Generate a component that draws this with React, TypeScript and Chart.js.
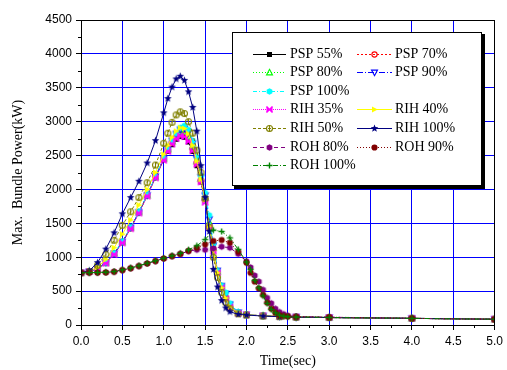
import React, { useEffect, useRef } from "react";
import { Chart, registerables } from "chart.js";

Chart.register(...registerables);

// ---- data ----
const timePR = [0, 0.1, 0.2, 0.3, 0.4, 0.5, 0.6, 0.7, 0.8, 0.9, 1.0, 1.05, 1.1, 1.15, 1.2, 1.25, 1.3, 1.35, 1.4, 1.45, 1.5, 1.55, 1.6, 1.65, 1.7, 1.75, 1.8, 1.9, 2.0, 2.2, 2.4, 2.6, 3.0, 4.0, 5.0];
const psp55 = [770, 790, 830, 920, 1050, 1220, 1430, 1660, 1910, 2180, 2440, 2560, 2660, 2740, 2780, 2770, 2700, 2560, 2350, 2110, 1830, 1460, 1110, 770, 550, 390, 265, 172, 150, 135, 125, 118, 110, 98, 85];
const psp70 = [770, 790, 830, 920, 1050, 1220, 1430, 1660, 1910, 2180, 2450, 2580, 2690, 2770, 2810, 2810, 2750, 2600, 2390, 2130, 1850, 1470, 1120, 780, 560, 400, 270, 175, 150, 135, 125, 118, 110, 98, 85];
const psp80 = [770, 790, 830, 920, 1055, 1225, 1435, 1665, 1915, 2185, 2455, 2590, 2710, 2800, 2850, 2860, 2790, 2640, 2420, 2160, 1880, 1510, 1140, 790, 570, 430, 290, 180, 150, 135, 125, 118, 110, 98, 85];
const psp90 = [770, 790, 830, 920, 1055, 1225, 1435, 1665, 1915, 2190, 2460, 2595, 2720, 2820, 2880, 2900, 2840, 2680, 2450, 2180, 1910, 1560, 1170, 800, 575, 460, 305, 185, 150, 135, 125, 118, 110, 98, 85];
const psp100 = [770, 790, 830, 920, 1060, 1230, 1440, 1670, 1920, 2190, 2460, 2590, 2720, 2830, 2910, 2940, 2880, 2720, 2480, 2200, 1950, 1620, 1200, 800, 580, 480, 320, 190, 150, 135, 125, 118, 110, 98, 85];
const rih35 = [770, 790, 830, 910, 1040, 1210, 1420, 1650, 1900, 2170, 2430, 2560, 2670, 2750, 2790, 2780, 2710, 2570, 2370, 2110, 1810, 1440, 1090, 770, 550, 390, 265, 172, 150, 135, 125, 118, 110, 98, 85];
const rih40 = [770, 790, 850, 970, 1140, 1340, 1550, 1770, 2000, 2250, 2520, 2650, 2770, 2860, 2910, 2900, 2820, 2650, 2420, 2150, 1850, 1460, 1100, 770, 550, 400, 270, 175, 150, 135, 125, 118, 110, 98, 85];
const rih50 = [770, 790, 880, 1040, 1250, 1470, 1670, 1880, 2100, 2360, 2680, 2830, 2990, 3100, 3145, 3120, 3000, 2830, 2580, 2250, 1870, 1440, 1000, 700, 480, 330, 240, 165, 148, 133, 123, 116, 110, 98, 85];
const rih100 = [770, 800, 920, 1120, 1360, 1640, 1880, 2120, 2390, 2720, 3130, 3340, 3510, 3630, 3670, 3610, 3440, 3210, 2860, 2350, 1880, 1380, 820, 560, 360, 250, 195, 158, 147, 132, 122, 115, 110, 98, 85];

const timeROH = [0, 0.1, 0.2, 0.3, 0.4, 0.5, 0.6, 0.7, 0.8, 0.9, 1.0, 1.1, 1.2, 1.3, 1.4, 1.5, 1.6, 1.7, 1.8, 1.9, 2.0, 2.05, 2.1, 2.15, 2.2, 2.25, 2.3, 2.35, 2.4, 2.45, 2.5, 2.6, 3.0, 4.0, 5.0];
const roh80 = [770, 772, 773, 776, 786, 810, 838, 870, 908, 944, 982, 1016, 1048, 1090, 1110, 1110, 1130, 1155, 1140, 1050, 940, 850, 730, 640, 520, 400, 320, 240, 190, 160, 140, 123, 115, 98, 85];
const roh90 = [770, 772, 773, 776, 786, 810, 838, 870, 908, 944, 982, 1016, 1048, 1095, 1140, 1190, 1240, 1255, 1215, 1080, 920, 770, 640, 540, 445, 330, 240, 180, 145, 132, 125, 120, 115, 98, 85];
const roh100 = [770, 772, 775, 780, 790, 815, 842, 875, 912, 948, 986, 1022, 1058, 1110, 1170, 1260, 1400, 1380, 1285, 1115, 930, 820, 660, 550, 430, 320, 230, 180, 145, 130, 122, 118, 112, 98, 85];

const seriesNames = ["PSP 55%", "PSP 70%", "PSP 80%", "PSP 90%", "PSP 100%", "RIH 35%", "RIH 40%", "RIH 50%", "RIH 100%", "ROH 80%", "ROH 90%", "ROH 100%"];
const seriesValues = [psp55, psp70, psp80, psp90, psp100, rih35, rih40, rih50, rih100, roh80, roh90, roh100];
const seriesTimes = [timePR, timePR, timePR, timePR, timePR, timePR, timePR, timePR, timePR, timeROH, timeROH, timeROH];

const xTickStep = 0.5;
const yTickStep = 500;

// ---- styles ----
const colors = ["#000000", "#ff0000", "#00ff00", "#0000ff", "#00ffff", "#ff00ff", "#ffff00", "#808000", "#000080", "#800080", "#800000", "#008000"];
const dashes: number[][] = [[], [2, 2], [1, 2], [6, 2, 1, 2], [4, 2, 1, 2], [1, 1], [], [3, 2], [], [4, 3], [1, 2], [5, 2, 1, 2]];
const markerKinds = ["square", "circleOpen", "triUpOpen", "triDownOpen", "hexFill", "bowtie", "triRight", "circlePlus", "star", "hexFill", "circleFill", "plus"];
const legendSlots = [[0, 0], [0, 1], [1, 0], [1, 1], [2, 0], [3, 0], [3, 1], [4, 0], [4, 1], [5, 0], [5, 1], [6, 0]];

function makeMarker(kind: string, color: string): HTMLCanvasElement {
  const size = 9;
  const c = document.createElement("canvas");
  c.width = size;
  c.height = size;
  const ctx = c.getContext("2d")!;
  ctx.translate(size / 2, size / 2);
  ctx.fillStyle = color;
  ctx.strokeStyle = color;
  ctx.lineWidth = 1.1;
  const poly = (pts: number[][]) => {
    ctx.beginPath();
    pts.forEach((p, i) => (i ? ctx.lineTo(p[0], p[1]) : ctx.moveTo(p[0], p[1])));
    ctx.closePath();
  };
  const hex = (r: number) => {
    const pts: number[][] = [];
    for (let i = 0; i < 6; i++) {
      const a = (Math.PI / 3) * i + Math.PI / 6;
      pts.push([r * Math.cos(a), r * Math.sin(a)]);
    }
    poly(pts);
  };
  switch (kind) {
    case "square":
      ctx.fillRect(-2.5, -2.5, 5, 5);
      break;
    case "circleOpen":
      ctx.beginPath();
      ctx.arc(0, 0, 2.6, 0, Math.PI * 2);
      ctx.stroke();
      break;
    case "triUpOpen":
      poly([[0, -3.2], [3, 2.4], [-3, 2.4]]);
      ctx.stroke();
      break;
    case "triDownOpen":
      poly([[0, 3.2], [3, -2.4], [-3, -2.4]]);
      ctx.stroke();
      break;
    case "hexFill":
      hex(3.3);
      ctx.fill();
      break;
    case "bowtie":
      poly([[-3, -3], [3, 3], [3, -3], [-3, 3]]);
      ctx.fill();
      ctx.beginPath();
      ctx.moveTo(-3, -3);
      ctx.lineTo(3, 3);
      ctx.moveTo(3, -3);
      ctx.lineTo(-3, 3);
      ctx.lineWidth = 1.5;
      ctx.stroke();
      break;
    case "triRight":
      poly([[3.3, 0], [-2.5, -3], [-2.5, 3]]);
      ctx.fill();
      break;
    case "circlePlus":
      ctx.beginPath();
      ctx.arc(0, 0, 3, 0, Math.PI * 2);
      ctx.moveTo(0, -3);
      ctx.lineTo(0, 3);
      ctx.stroke();
      break;
    case "star": {
      const pts: number[][] = [];
      for (let i = 0; i < 10; i++) {
        const r = i % 2 === 0 ? 4 : 1.7;
        const a = -Math.PI / 2 + (Math.PI / 5) * i;
        pts.push([r * Math.cos(a), r * Math.sin(a)]);
      }
      poly(pts);
      ctx.fill();
      break;
    }
    case "circleFill":
      ctx.beginPath();
      ctx.arc(0, 0, 3.1, 0, Math.PI * 2);
      ctx.fill();
      break;
    case "plus":
      ctx.lineWidth = 1.4;
      ctx.beginPath();
      ctx.moveTo(-3, 0);
      ctx.lineTo(3, 0);
      ctx.moveTo(0, -3);
      ctx.lineTo(0, 3);
      ctx.stroke();
      break;
  }
  return c;
}

const frameAndLegend = {
  id: "frameAndLegend",
  afterDraw(chart: any) {
    const { ctx, chartArea } = chart;
    const xs = chart.scales.x;
    const ys = chart.scales.y;
    ctx.save();
    // minor ticks
    ctx.strokeStyle = "#000";
    ctx.lineWidth = 1;
    ctx.beginPath();
    for (let v = xTickStep / 2; v < xs.max; v += xTickStep) {
      const px = Math.round(xs.getPixelForValue(v)) + 0.5;
      ctx.moveTo(px, chartArea.bottom);
      ctx.lineTo(px, chartArea.bottom + 3);
    }
    for (let v = yTickStep / 2; v < ys.max; v += yTickStep) {
      const py = Math.round(ys.getPixelForValue(v)) + 0.5;
      ctx.moveTo(chartArea.left, py);
      ctx.lineTo(chartArea.left - 3, py);
    }
    ctx.stroke();
    // frame
    ctx.strokeRect(
      Math.round(chartArea.left) + 0.5,
      Math.round(chartArea.top) + 0.5,
      Math.round(chartArea.right - chartArea.left) - 1,
      Math.round(chartArea.bottom - chartArea.top)
    );
    // legend
    const bx = 232, by = 32, bw = 250, bh = 154;
    ctx.fillStyle = "#000";
    ctx.fillRect(bx + 2, by + 2, bw + 1, bh + 1);
    ctx.fillStyle = "#fff";
    ctx.fillRect(bx, by, bw, bh);
    ctx.strokeStyle = "#000";
    ctx.strokeRect(bx + 0.5, by + 0.5, bw - 1, bh - 1);
    const rowY0 = 53.5, rowH = 18.6;
    const cols = [{ l1: 253, l2: 286, tx: 290 }, { l1: 357, l2: 392, tx: 395 }];
    ctx.font = '14px "Liberation Serif", "Times New Roman", serif';
    ctx.textBaseline = "middle";
    chart.data.datasets.forEach((ds: any, i: number) => {
      const [r, c] = legendSlots[i];
      const y = Math.round(rowY0 + r * rowH) + 0.5;
      const col = cols[c];
      ctx.save();
      ctx.strokeStyle = ds.borderColor;
      ctx.lineWidth = 1;
      ctx.setLineDash(ds.borderDash || []);
      ctx.beginPath();
      ctx.moveTo(col.l1, y);
      ctx.lineTo(col.l2, y);
      ctx.stroke();
      ctx.restore();
      const img = ds.pointStyle as HTMLCanvasElement;
      const mx = (col.l1 + col.l2) / 2;
      ctx.drawImage(img, Math.round(mx - img.width / 2), Math.round(y - img.height / 2));
      ctx.fillStyle = "#000";
      ctx.fillText(ds.label, col.tx, y);
    });
    ctx.restore();
  },
};

export default function App() {
  const ref = useRef<HTMLCanvasElement | null>(null);
  useEffect(() => {
    if (!ref.current) return;
    const datasets = seriesNames.map((name, i) => ({
      label: name,
      data: seriesTimes[i].map((t, k) => ({ x: t, y: seriesValues[i][k] })),
      borderColor: colors[i],
      backgroundColor: colors[i],
      borderDash: dashes[i],
      borderWidth: 1,
      pointStyle: makeMarker(markerKinds[i], colors[i]),
      pointRadius: 3,
      tension: 0,
      order: seriesNames.length - i,
    }));
    const tickFont = { family: '"Liberation Sans", Arial, sans-serif', size: 12 };
    const titleFont = { family: '"Liberation Serif", "Times New Roman", serif', size: 14 };
    const chart = new Chart(ref.current, {
      type: "line",
      data: { datasets },
      plugins: [frameAndLegend],
      options: {
        animation: false,
        responsive: false,
        maintainAspectRatio: false,
        layout: { padding: { top: 20, right: 10, left: 0, bottom: 0 } },
        plugins: { legend: { display: false }, tooltip: { enabled: false } },
        scales: {
          x: {
            type: "linear",
            min: 0,
            max: 5,
            afterFit: (s: any) => { s.height = 45; },
            ticks: { stepSize: xTickStep, color: "#000", font: tickFont, padding: 4, maxRotation: 0, callback: (v: any) => Number(v).toFixed(1) },
            grid: { color: "#0000ff", lineWidth: 1, tickColor: "#000", tickLength: 5 },
            border: { display: false },
            title: { display: true, text: "Time(sec)", color: "#000", font: titleFont, padding: { top: 0, bottom: 0 } },
          },
          y: {
            min: 0,
            max: 4500,
            afterFit: (s: any) => { s.width = 81; },
            ticks: { stepSize: yTickStep, color: "#000", font: tickFont, padding: 4, callback: (v: any) => String(v) },
            grid: { color: "#0000ff", lineWidth: 1, tickColor: "#000", tickLength: 5 },
            border: { display: false },
            title: { display: true, text: "Max.  Bundle Power(kW)", color: "#000", font: titleFont, padding: { top: 10, bottom: 0 } },
          },
        },
      },
    });
    return () => chart.destroy();
  }, []);
  return (
    <div style={{ position: "fixed", left: 0, top: 0, width: 507, height: 370, background: "#fff" }}>
      <canvas ref={ref} width={507} height={370} />
    </div>
  );
}
